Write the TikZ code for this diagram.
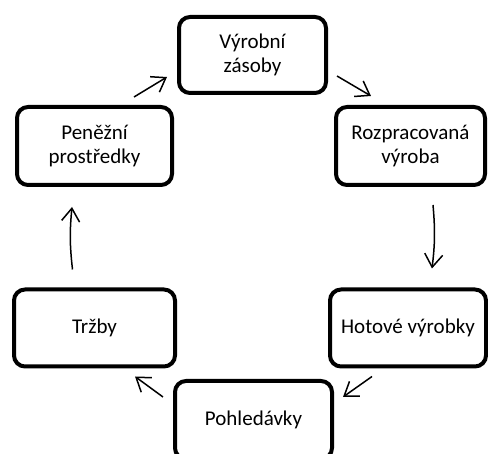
\documentclass[tikz,border=0pt]{standalone}
\usepackage{fontspec}
\setmainfont{Carlito}
\usetikzlibrary{arrows.meta}
\begin{document}
\begin{tikzpicture}[x=1pt,y=-1pt,
  box/.style={draw=black,line width=4pt,rounded corners=11pt,align=center,
    inner sep=0pt,font=\fontsize{21}{24}\selectfont},
  arr/.style={line width=1.5pt,-{Straight Barb[length=13pt,width=18pt,line width=1.5pt]}}]
\useasboundingbox (0,0) rectangle (488,454);
\clip (0,0) rectangle (488,454);
\fill[white] (0,0) rectangle (488,454);
\node[box,minimum width=147pt,minimum height=76pt] (V) at (252.5,55) {Výrobní\\zásoby};
\node[box,minimum width=155pt,minimum height=78pt] (P) at (94.5,146) {Peněžní\\prostředky};
\node[box,minimum width=149pt,minimum height=78pt] (R) at (410.5,146) {Rozpracovaná\\výroba};
\node[box,minimum width=161pt,minimum height=77pt] (T) at (94.5,328) {Tržby};
\node[box,minimum width=156pt,minimum height=77pt] (H) at (408,328) {Hotové výrobky};
\node[box,minimum width=157pt,minimum height=78pt] (Po) at (253.5,420) {Pohledávky};
\draw[arr] ([xshift=-40pt,yshift=8pt]P.north east) -- ([xshift=-10pt,yshift=18pt]V.south west);
\draw[arr] ([xshift=9pt,yshift=-21pt]V.east) -- ([xshift=37pt,yshift=9pt]R.north west);
\draw[arr] ([xshift=22.5pt,yshift=-18pt]R.south) to[bend left=6] ([xshift=24pt,yshift=19pt]H.north);
\draw[arr] ([xshift=44pt,yshift=-8pt]H.south west) -- ([xshift=9pt,yshift=-18pt]Po.north east);
\draw[arr] ([xshift=-10pt,yshift=-18pt]Po.north west) -- ([xshift=-42pt,yshift=-8pt]T.south east);
\draw[arr] ([xshift=-22pt,yshift=18pt]T.north) to[bend left=6] ([xshift=-22.5pt,yshift=-20pt]P.south);
\end{tikzpicture}
\end{document}
